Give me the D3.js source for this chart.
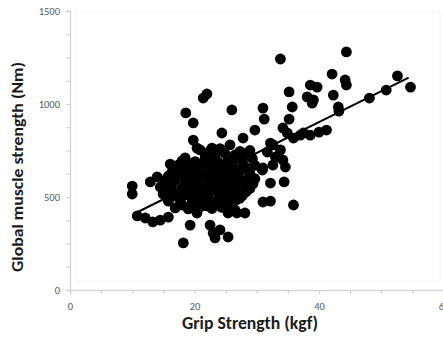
<!DOCTYPE html>
<html><head><meta charset="utf-8">
<script src="https://cdn.jsdelivr.net/npm/d3@7"></script>
<style>body{margin:0;background:#fff}svg{display:block}</style>
</head><body><svg id="c" width="443" height="344"></svg>
<script>
const grip = [
33.8,44.4,42.1,44.2,44.4,52.6,54.7,50.8,48.1,38.6,39.7,38.1,39.1,38.9,35.2,42.3,43.1,43.2,35.7,35.2,
31.0,31.2,34.2,38.6,40.0,41.2,37.0,35.9,32.6,31.7,33.8,33.0,34.2,32.6,34.6,31.0,32.2,34.4,31.0,32.2,
35.9,34.9,37.5,21.4,22.0,26.0,18.6,19.8,24.4,29.7,19.8,27.8,25.7,22.8,32.2,20.4,10.0,10.0,10.8,12.1,
13.3,14.5,15.8,12.9,16.1,14.0,14.5,18.2,19.3,22.5,23.0,24.1,25.4,23.3,25.4,26.8,28.1,20.4,30.9,26.5,
20.9,22.5,24.1,27.3,28.9,
18.5,21.7,23.3,25.4,27.0,29.3,
17.4,19.3,20.9,22.8,24.4,26.0,28.1,29.7,
16.4,18.2,20.1,21.9,23.8,25.4,27.3,28.9,
15.3,17.0,19.0,20.6,22.5,24.1,26.0,27.8,29.7,
16.1,18.0,19.6,21.4,23.3,25.1,27.0,28.9,
14.95,16.9,18.6,20.6,22.2,24.1,25.7,27.7,
15.8,17.7,19.6,21.5,23.3,24.9,26.7,
16.9,19.0,20.9,22.8,24.4,
21.7,23.3,24.9,26.5,28.1,
18.0,20.1,22.2,23.8,25.7,27.7,
16.9,18.6,20.4,22.2,23.6,25.1,26.7,28.6,
15.8,17.7,19.6,21.4,23.2,24.9,26.8,28.8,
16.4,18.6,20.4,22.2,23.9,25.7,27.7,29.4,
15.6,17.5,19.3,21.2,23.0,24.8,26.5,28.3,
16.1,17.8,20.1,22.0,23.8,25.4,27.3,
18.0,19.9,21.9,23.6,25.4
];
const muscle = [
1242,1280,1161,1129,1102,1151,1091,1075,1032,1102,1091,1038,1022,1005,1065,1048,984,962,984,919,
978,919,871,833,849,860,833,817,780,742,753,715,699,672,661,656,575,581,473,478,
457,844,844,1032,1054,968,952,898,844,860,806,817,780,763,790,763,559,516,398,387,
366,376,392,581,677,608,554,253,349,349,306,323,285,280,414,414,414,414,645,430,
753,748,760,745,750,
710,705,712,700,715,706,
672,668,675,665,670,678,662,670,
634,630,640,628,636,632,638,626,
591,595,588,592,586,594,590,585,598,
554,550,558,548,556,552,560,546,
516,520,512,518,510,522,514,508,
478,482,474,480,470,476,484,
441,436,446,438,444,
731,728,734,726,732,
694,690,697,688,695,691,
650,654,647,652,645,656,649,653,
613,609,616,611,618,607,614,610,
570,574,567,572,565,576,569,571,
532,528,535,530,537,527,533,529,
495,499,492,497,490,500,494,
457,460,453,458,455
];
const xTicks = [0,20,40,60];
const yTicks = [0,500,1000,1500];
const trendX = [10.8, 54.4];
const trendY = [418, 1142];

const svg = d3.select("#c");
const x = d3.scaleLinear().domain([0,60]).range([70,443.5]);
const y = d3.scaleLinear().domain([0,1500]).range([290,11]);

svg.append("rect").attr("x",76).attr("y",12).attr("width",364).attr("height",269)
  .attr("fill","none").attr("stroke","#f4f4f4").attr("stroke-width",1);

const axisColor = "#d4d4d4";
const labColor = "#595959";
const font = "Carlito, Calibri, 'Liberation Sans', sans-serif";

const gx = svg.append("g").attr("transform","translate(0,290)");
gx.call(d3.axisBottom(x).tickValues(d3.range(0,61,5)).tickSize(4).tickFormat(""));
gx.select(".domain").attr("stroke",axisColor).attr("stroke-width",1.3);
gx.selectAll(".tick line").attr("stroke",axisColor).attr("stroke-width",1.2);
gx.selectAll(".tick").filter(d=>xTicks.includes(d)).append("text")
  .attr("y",20).attr("fill",labColor).attr("text-anchor","middle")
  .style("font-family",font).style("font-size","10.5px").text(d=>d);

const gy = svg.append("g").attr("transform","translate(70,0)");
gy.call(d3.axisLeft(y).tickValues(d3.range(0,1501,125)).tickSize(4).tickFormat(""));
gy.select(".domain").attr("stroke",axisColor).attr("stroke-width",1.3);
gy.selectAll(".tick line").attr("stroke",axisColor).attr("stroke-width",1.2);
gy.selectAll(".tick").filter(d=>yTicks.includes(d)).append("text")
  .attr("x",-10).attr("dy","0.35em").attr("fill",labColor).attr("text-anchor","end")
  .style("font-family",font).style("font-size","10.5px").text(d=>d);

svg.append("g").selectAll("circle").data(grip.map((g,i)=>[g,muscle[i]])).join("circle")
  .attr("cx",d=>x(d[0])).attr("cy",d=>y(d[1])).attr("r",5.4).attr("fill","#000");

svg.append("line").attr("x1",x(trendX[0])).attr("y1",y(trendY[0]))
  .attr("x2",x(trendX[1])).attr("y2",y(trendY[1]))
  .attr("stroke","#000").attr("stroke-width",2);

svg.append("text").attr("x",250).attr("y",329).attr("text-anchor","middle")
  .attr("fill","#1a1a1a").style("font-family",font).style("font-weight","bold").style("font-size","17px")
  .attr("textLength",136).attr("lengthAdjust","spacingAndGlyphs")
  .text("Grip Strength (kgf)");
svg.append("text").attr("transform","translate(23,167) rotate(-90)").attr("text-anchor","middle")
  .attr("fill","#1a1a1a").style("font-family",font).style("font-weight","bold").style("font-size","16px")
  .attr("textLength",210).attr("lengthAdjust","spacingAndGlyphs")
  .text("Global muscle strength (Nm)");
</script></body></html>
